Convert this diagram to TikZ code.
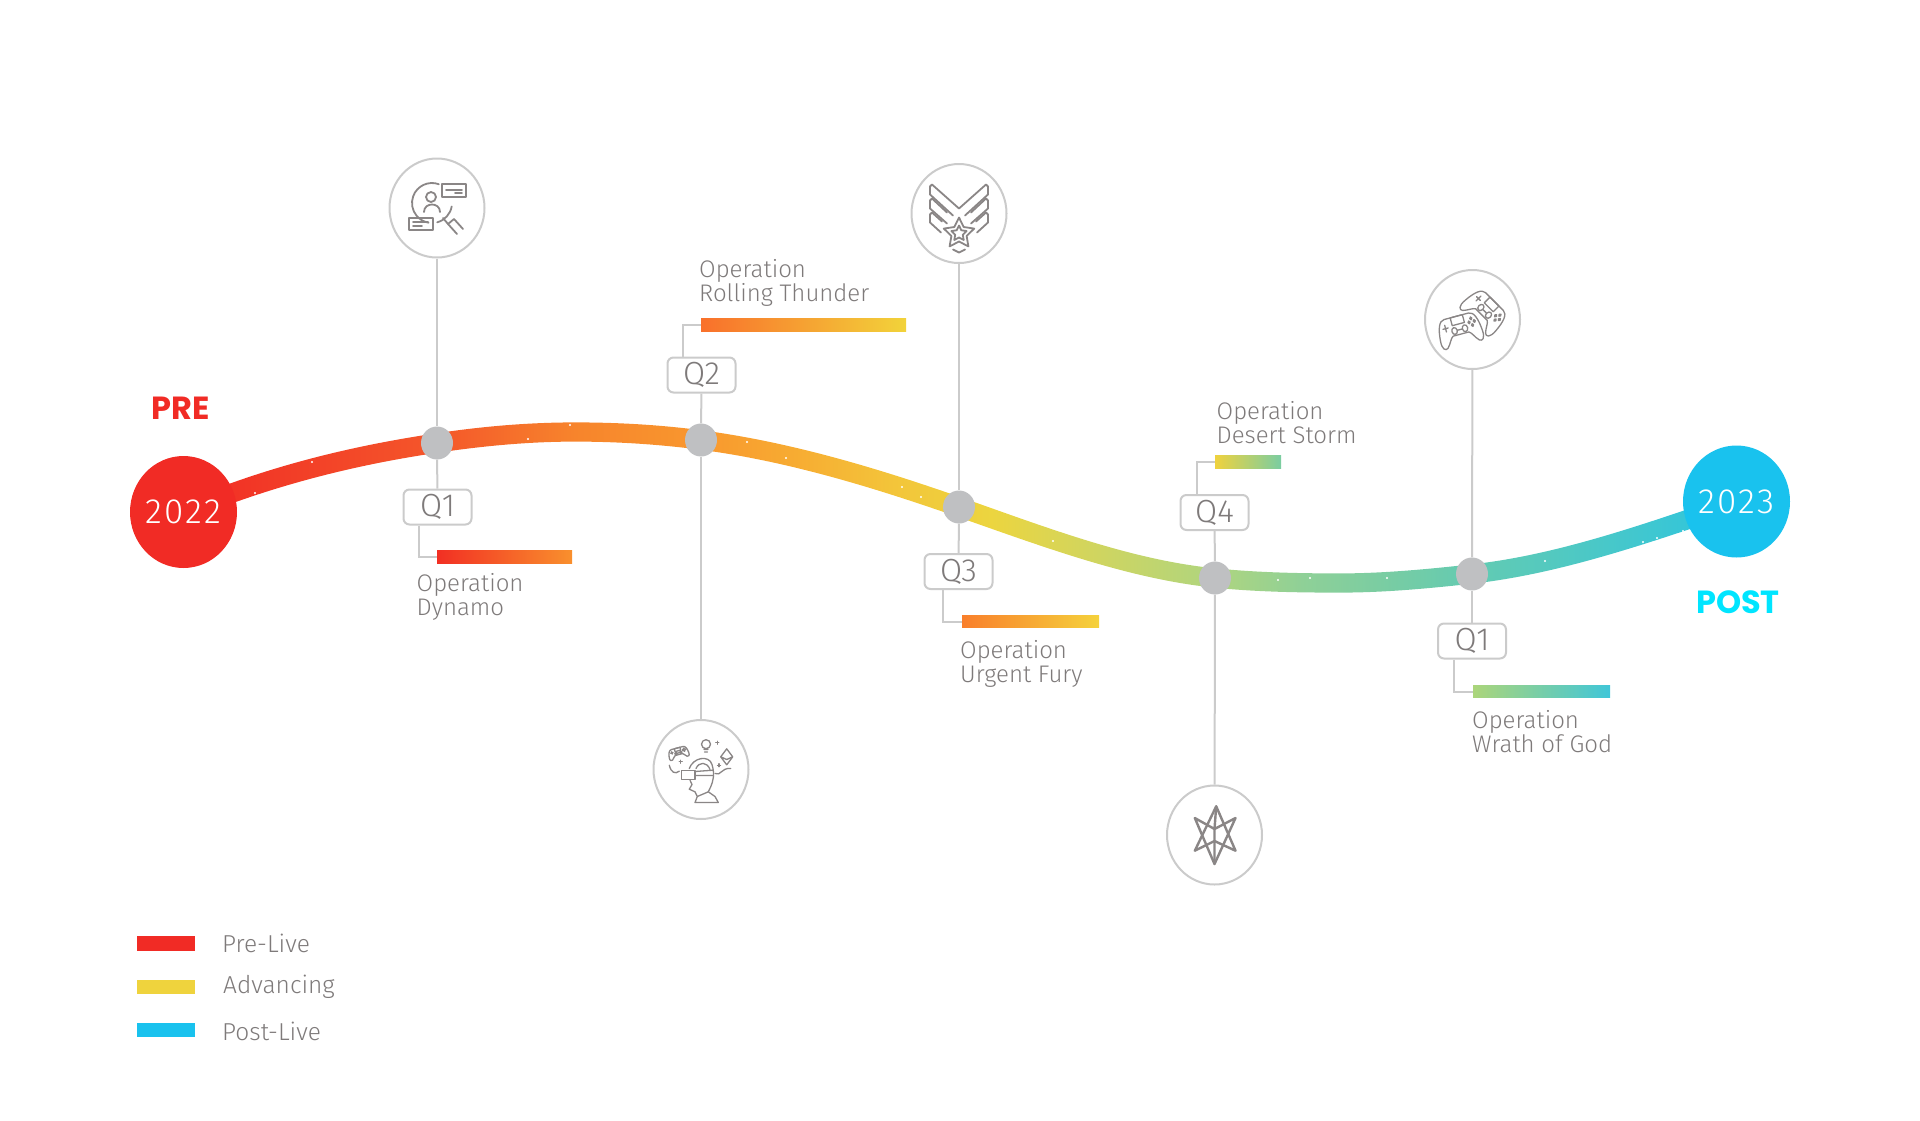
\documentclass[tikz,border=0pt]{standalone}
\usepackage{fontspec}
\usetikzlibrary{shapes,positioning,calc,backgrounds}
\setmainfont{Fira Sans Light}
\newfontfamily\headfont{Poppins}[BoldFont={Poppins Bold}]
\definecolor{stemgrey}{HTML}{CBCBCB}
\definecolor{dotgrey}{HTML}{BFC0C2}
\definecolor{textgrey}{HTML}{7E7A7A}
\definecolor{icongrey}{HTML}{8A8686}
\definecolor{prered}{HTML}{F12B25}
\definecolor{advyellow}{HTML}{EFD33D}
\definecolor{postblue}{HTML}{19C2EE}
\definecolor{posttext}{HTML}{00E5FF}
\pgfdeclarehorizontalshading{bandshade}{100bp}{
  color(0bp)=(prered); color(25bp)=(prered);
  rgb(33.2bp)=(0.957,0.341,0.165); rgb(37.6bp)=(0.969,0.518,0.173);
  rgb(41.7bp)=(0.976,0.596,0.180); rgb(44.6bp)=(0.969,0.671,0.196);
  rgb(47.9bp)=(0.953,0.773,0.227); rgb(51bp)=(0.925,0.835,0.247);
  rgb(54.1bp)=(0.824,0.835,0.365); rgb(58.2bp)=(0.686,0.835,0.498);
  rgb(61bp)=(0.561,0.816,0.592); rgb(64.2bp)=(0.459,0.800,0.647);
  rgb(66.5bp)=(0.388,0.796,0.698); rgb(71.9bp)=(0.255,0.780,0.812);
  rgb(75bp)=(0.165,0.773,0.878); rgb(100bp)=(0.165,0.773,0.878)}
\tikzset{
dotnode/.style = {ellipse, fill=dotgrey, inner sep=0pt, minimum width=32pt, minimum height=33pt},
yearnode/.style = {ellipse, inner sep=0pt, minimum width=107pt, minimum height=112pt, text=white, font=\fontsize{35}{35}\selectfont\addfontfeature{LetterSpace=6}},
iconnode/.style = {ellipse, draw=stemgrey, line width=2pt, fill=white, inner sep=0pt, minimum width=95pt, minimum height=99pt},
qbox/.style = {draw=stemgrey, line width=2pt, fill=white, rounded corners=6pt, inner sep=0pt, minimum width=68pt, minimum height=35pt, text=textgrey, font=\fontsize{32}{32}\selectfont},
opbar/.style = {inner sep=0pt, minimum height=12.5pt, anchor=west},
oplabel/.style = {anchor=north west, inner sep=0pt, align=left, text=textgrey, font=\fontsize{24}{24}\selectfont},
legbar/.style = {inner sep=0pt, minimum width=58pt, minimum height=14.5pt, anchor=west},
legtext/.style = {anchor=west, inner sep=0pt, text=textgrey, font=\fontsize{24.5}{25}\selectfont},
headtext/.style = {inner sep=0pt, font=\headfont\bfseries\fontsize{32}{32}\selectfont},
stem/.style = {draw=stemgrey, line width=2pt},
iconline/.style = {draw=icongrey, line width=1.8pt, line cap=round, line join=round},
thinline/.style = {draw=icongrey, line width=1.3pt, line cap=round, line join=round},
pics/gamepad/.style = {code = {
  \draw[thinline] (-14,-11) -- (14,-11) .. controls (20,-11) and (23,-4) .. (24,6)
    .. controls (25,14) and (21,16) .. (18,14) .. controls (14,11) and (12,6) .. (9,5)
    -- (-9,5) .. controls (-12,6) and (-14,11) .. (-18,14) .. controls (-21,16) and (-25,14) .. (-24,6)
    .. controls (-23,-4) and (-20,-11) .. (-14,-11) -- cycle;
  \draw[thinline] (-7,-11) rectangle (7,-4);
  \draw[thinline] (-6,1) circle (3) (6,1) circle (3) (-3,1) -- (3,1);
  \draw[thinline] (-18,-3) -- (-12,-3) (-15,-6) -- (-15,0);
  \draw[thinline] (15,-6) circle (1.2) (15,0) circle (1.2) (12,-3) circle (1.2) (18,-3) circle (1.2);
}}
}
\newcommand{\starline}[4]{% centre x, centre y, outer and inner radius
  \draw[iconline] plot[samples at={0,...,10},variable=\k]
    ({#1+(mod(\k,2)==0?#3:#4)*cos(-90+36*\k)},{#2+(mod(\k,2)==0?#3:#4)*sin(-90+36*\k)}) -- cycle;
}

\begin{document}
\begin{tikzpicture}[x=1pt,y=-1pt]
  \useasboundingbox (0,0) rectangle (1920,1120);

  % years and quarters
  \node [yearnode, fill=prered] (yra) at (183.5,512) {2022};
  \node [yearnode, fill=postblue] (yrb) at (1736.5,501.5) {2023};
  \node [headtext, text=prered] (pre) at (181,408.5) {PRE};
  \node [headtext, text=posttext] (post) at (1738,602) {POST};

  \node [dotnode] (dota) at (437,443) {};
  \node [dotnode] (dotb) at (701,440) {};
  \node [dotnode] (dotc) at (959,507) {};
  \node [dotnode] (dotd) at (1215,578) {};
  \node [dotnode] (dote) at (1472,574) {};

  \node [qbox] (qa) at (437.5,507) {Q1};
  \node [qbox] (qb) at (701.5,375) {Q2};
  \node [qbox] (qc) at (958.5,571.5) {Q3};
  \node [qbox] (qd) at (1214.5,512.5) {Q4};
  \node [qbox] (qe) at (1472,641) {Q1};

  \node [iconnode] (icona) at (437,208) {};
  \node [iconnode] (iconb) at (701,769.5) {};
  \node [iconnode] (iconc) at (959,213.5) {};
  \node [iconnode] (icond) at (1214.5,835) {};
  \node [iconnode] (icone) at (1472.5,319.5) {};

  % operation bars
  \node [opbar, minimum width=135pt, left color=prered!95!orange, right color={rgb,255:red,249;green,144;blue,45}] (bara) at (437,557) {};
  \node [opbar, minimum width=205pt, left color={rgb,255:red,249;green,112;blue,43}, middle color={rgb,255:red,249;green,154;blue,47}, right color={rgb,255:red,242;green,211;blue,58}] (barb) at (701,325) {};
  \node [opbar, minimum width=137pt, left color={rgb,255:red,249;green,127;blue,43}, middle color={rgb,255:red,251;green,160;blue,47}, right color={rgb,255:red,245;green,210;blue,60}] (barc) at (962,621.5) {};
  \node [opbar, minimum width=66pt, left color={rgb,255:red,239;green,210;blue,62}, right color={rgb,255:red,122;green,205;blue,162}] (bard) at (1215,462) {};
  \node [opbar, minimum width=137pt, left color={rgb,255:red,171;green,213;blue,122}, right color={rgb,255:red,64;green,198;blue,216}] (bare) at (1473,691.5) {};

  \node [oplabel] (opa) at (416.5,573) {Operation\\Dynamo};
  \node [oplabel] (opb) at (699,259) {Operation\\Rolling Thunder};
  \node [oplabel] (opc) at (960,640) {Operation\\Urgent Fury};
  \node [oplabel] (opd) at (1216.5,401) {Operation\\Desert Storm};
  \node [oplabel] (ope) at (1472,710) {Operation\\Wrath of God};

  % legend
  \node [legbar, fill=prered] (lega) at (137,943.5) {};
  \node [legbar, fill=advyellow] (legb) at (137,987) {};
  \node [legbar, fill=postblue] (legc) at (137,1030) {};
  \node [legtext] (texta) at (222,943.5) {Pre-Live};
  \node [legtext] (textb) at (223,987) {Advancing};
  \node [legtext] (textc) at (222,1031.5) {Post-Live};

  \begin{scope}[on background layer]
    \draw [stem] (icona) -- (dota);
    \draw [stem] (dota) -- (qa);
    \draw [stem] (qb) -- (dotb);
    \draw [stem] (dotb) -- (iconb);
    \draw [stem] (iconc) -- (dotc);
    \draw [stem] (dotc) -- (qc);
    \draw [stem] (qd) -- (dotd);
    \draw [stem] (dotd) -- (icond);
    \draw [stem] (icone) -- (dote);
    \draw [stem] (dote) -- (qe);
    \draw [stem] ([xshift=-18.5pt]qa.south) |- (bara.west);
    \draw [stem] ([xshift=-18.5pt]qb.north) |- (barb.west);
    \draw [stem] ([xshift=-15.5pt]qc.south) |- (barc.west);
    \draw [stem] ([xshift=-17.5pt]qd.north) |- (bard.west);
    \draw [stem] ([xshift=-18pt]qe.south) |- (bare.west);

    % the band, shaded from left to right
    \path [shading=bandshade, shading angle=0]
      ($(yra)+(0,-10.3)$)
      .. controls (267.7,466.1) and (352.3,445.7) .. ($(dota)+(0,-9.8)$)
      .. controls (483,426.3) and (529,422.4) .. (575,422.4)
      .. controls (617,422.4) and (659,424.7) .. ($(dotb)+(0,-9.8)$)
      .. controls (787,441.4) and (873,466.6) .. ($(dotc)+(0,-10.3)$)
      .. controls (1044.3,526.6) and (1129.7,559.8) .. ($(dotd)+(0,-9.7)$)
      .. controls (1256.7,572.5) and (1298.3,573.4) .. (1340,573.4)
      .. controls (1384,573.4) and (1428,569.1) .. ($(dote)+(0,-9.7)$)
      .. controls (1560,554.6) and (1648,522.6) .. ($(yrb)+(0,-8.8)$)
      -- ($(yrb)+(0,11.8)$)
      .. controls (1648,543.2) and (1560,574) .. ($(dote)+(0,9.7)$)
      .. controls (1428,588.5) and (1384,592.6) .. (1340,592.6)
      .. controls (1298.3,592.6) and (1256.7,591.9) .. ($(dotd)+(0,9.7)$)
      .. controls (1129.7,579.2) and (1044.3,547.2) .. ($(dotc)+(0,10.3)$)
      .. controls (873,487.2) and (787,461) .. ($(dotb)+(0,9.8)$)
      .. controls (659,444.3) and (617,441.6) .. (575,441.6)
      .. controls (529,441.6) and (483,445.9) .. ($(dota)+(0,9.8)$)
      .. controls (352.3,465.3) and (267.7,486.7) .. ($(yra)+(0,10.3)$)
      -- cycle;
    \foreach \x/\y in {312/462, 255/493, 528/439, 570/425, 747/442, 786/458, 902/487, 921/497, 1053/541, 1278/580, 1310/578, 1387/578, 1545/561, 1643/542, 1657/538, 1683/531}
      \fill [white] (\x,\y) circle (1.2);
  \end{scope}

  % person under a magnifier
  \begin{scope}[shift={(icona.center)}]
    \draw [iconline] (-5,-5) ++(-70:20) arc[start angle=-70, end angle=-260, radius=20];
    \draw [iconline] (-5,-5) ++(10:20) arc[start angle=10, end angle=75, radius=20];
    \draw [iconline] (-6,-11) circle (5);
    \draw [iconline] (-13,4) .. controls (-13,-6) and (3,-6) .. (3,4);
    \draw [iconline] (4.7,-23.7) rectangle (29,-11);
    \draw [iconline] (9,-18) -- (25,-18) (18,-15) -- (25,-15);
    \draw [iconline] (-28,9.7) rectangle (-4.3,22);
    \draw [iconline] (-24,14) -- (-9,14) (-24,18) -- (-15,18);
    \draw [iconline] (6,10) -- (11,16) (17,11) -- (26,21) (11,16) -- (20,26) (17,11) -- (11,16);
  \end{scope}

  % head with visor and floating ideas
  \begin{scope}[shift={(iconb.center)}]
    \pic [rotate=15, scale=0.42] at (-22.7,-17) {gamepad};
    \draw [thinline] (5,-25.3) circle (4.5) (3,-20) -- (7,-20) (3.5,-17.5) -- (6.5,-17.5);
    \draw [thinline] (25.7,-20.7) -- (31.7,-12.7) -- (25.7,-4.7) -- (19.7,-12.7) -- cycle (19.7,-12.7) -- (25.7,-10) -- (31.7,-12.7);
    \draw [thinline] (-21.8,-7.7) -- (-18.8,-7.7) (-20.3,-9.2) -- (-20.3,-6.2);
    \draw [thinline] (14.8,-26.7) -- (17.8,-26.7) (16.3,-28.2) -- (16.3,-25.2);
    \draw [thinline] (16.5,-4.3) -- (19.5,-4.3) (18,-5.8) -- (18,-2.8);
    \draw [thinline] (-31.7,-4.3) .. controls (-30,3) and (-26,5) .. (-21.7,1.7);
    \draw [thinline] (14,4) .. controls (20,7) and (20,-2) .. (29.7,-1);
    \draw [thinline] (-11.7,-1) .. controls (-8,-12) and (8,-15) .. (11,-5) .. controls (14,5) and (12,12) .. (9.7,17.3) -- (7.3,22.3);
    \draw [thinline] (-5,-1) .. controls (-2,-8) and (6,-8) .. (9,0);
    \draw [thinline] (-19.3,0.7) rectangle (-6,10);
    \draw [thinline] (-6,2) -- (12,0.7) (-6,6) -- (12,6);
    \draw [thinline] (-11,10.7) -- (-9,15) -- (-11.7,19.7) -- (-6,22.3) -- (-3.7,27) -- (-6,33) -- (17.3,33) -- (14,27) -- (7.3,22.3) (-3.7,27) -- (7.3,22.3);
  \end{scope}

  % rank chevrons
  \begin{scope}[shift={(iconc.center)}]
    \draw [iconline] (-29,-27) -- (-27,-29) -- (0,-5) -- (27,-29) -- (29,-27) -- (29,-19) -- (6,2);
    \draw [iconline] (-29,-27) -- (-29,-19) -- (-6,2);
    \draw [iconline] (-29,-13) -- (-27,-15) -- (-12,-1) (27,-15) -- (29,-13) -- (29,-5) -- (12,10) (12,-1) -- (27,-15);
    \draw [iconline] (-29,-13) -- (-29,-5) -- (-12,10);
    \draw [iconline] (-29,1) -- (-27,-1) -- (-17,8) (27,-1) -- (29,1) -- (29,9) -- (18,19) (17,8) -- (27,-1);
    \draw [iconline] (-29,1) -- (-29,9) -- (-18,19);
    \draw [iconline] (-6,36) -- (0,39) -- (6,36);
    \starline{0}{20}{16}{8}
    \starline{0}{20}{8}{4}
  \end{scope}

  % six pointed emblem
  \begin{scope}[shift={(icond.center)}]
    \draw [iconline, line width=2.4pt] (1.7,-28.7) -- (-19.7,15.7) -- (0,6) -- (21,15.7) -- cycle;
    \draw [iconline, line width=2.4pt] (-19.7,-17) -- (0,-6) -- (21,-17) -- (0,29) -- cycle;
    \draw [iconline, line width=2.4pt] (1.7,-28.7) -- (0,-6) -- (0,29);
  \end{scope}

  % pair of controllers
  \begin{scope}[shift={(icone.center)}]
    \pic [rotate=15, xscale=0.9, yscale=1.15] at (-13,9) {gamepad};
    \pic [rotate=-45, xscale=0.9, yscale=1.15] at (13,-9) {gamepad};
  \end{scope}
\end{tikzpicture}
\end{document}
